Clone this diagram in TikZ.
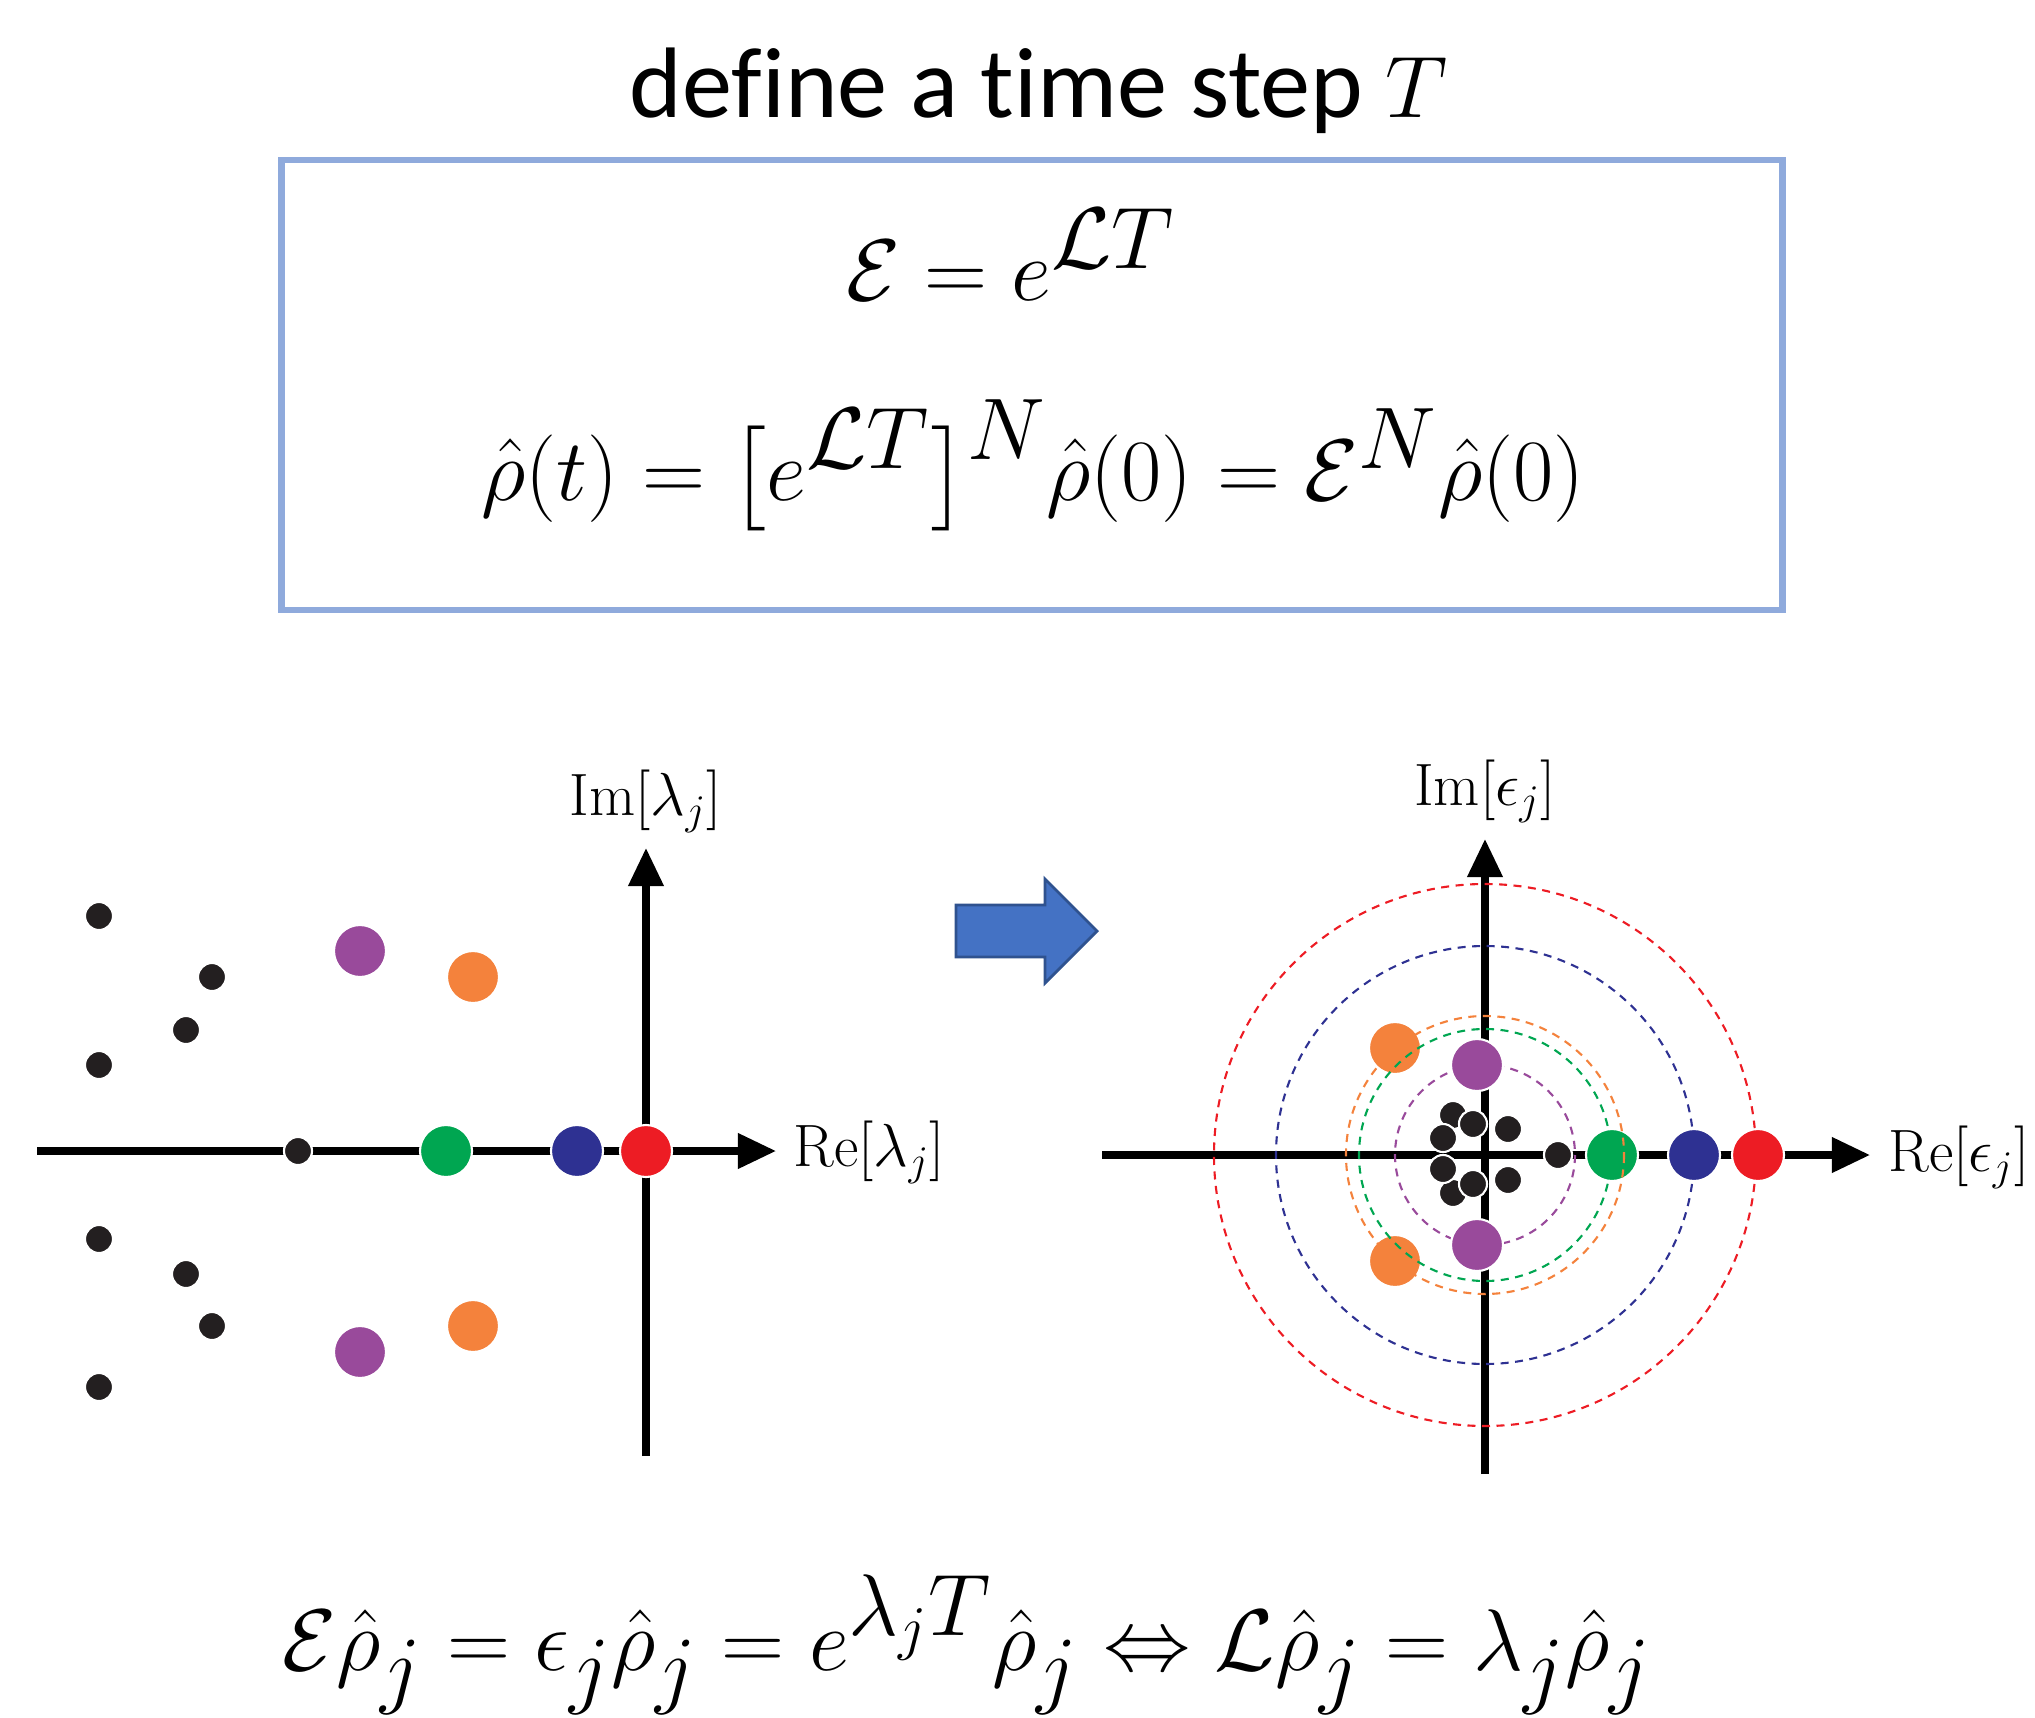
\documentclass[tikz,border=0pt]{standalone}
\usepackage{fontspec}
\usepackage{amsmath}
\usepackage{tikz}
\usetikzlibrary{arrows.meta, positioning}
\newfontfamily\titlefont[Ligatures=NoCommon]{Carlito}
\definecolor{boxblue}{HTML}{8FAADC}
\definecolor{arrowfill}{HTML}{4472C4}
\definecolor{arrowedge}{HTML}{2F528F}
\definecolor{dotblack}{HTML}{231F20}
\definecolor{dotpurple}{HTML}{994A9B}
\definecolor{dotorange}{HTML}{F4823C}
\definecolor{dotgreen}{HTML}{00A651}
\definecolor{dotblue}{HTML}{2E3192}
\definecolor{dotred}{HTML}{ED1C24}

\begin{document}
\begin{tikzpicture}[
    x=0.01cm, y=-0.01cm,
    eqn/.style={anchor=base, inner sep=0pt, font=\fontsize{33}{40}\selectfont},
    axis/.style={line width=2pt, -{Triangle[length=0.38cm, width=0.34cm]}},
    alab/.style={inner sep=0pt, font=\fontsize{17}{20}\selectfont},
    dotsm/.style={circle, fill=dotblack, draw=white, line width=0.6pt,
        inner sep=0pt, minimum size=0.28cm},
    dotbig/.style={circle, draw=white, line width=0.6pt, inner sep=0pt,
        minimum size=0.52cm},
    ring/.style={dash pattern=on 0.08cm off 0.065cm, line width=0.6pt}
]
\useasboundingbox (0,0) rectangle (2035,1718);

% --- Title and defining box ---
\node[anchor=base, inner sep=0pt, font=\titlefont\fontsize{28.5}{34}\selectfont]
    (title) at (1039,117) {define a time step $T$};
\node[draw=boxblue, line width=1.8pt, minimum width=15cm, minimum height=4.5cm]
    (defbox) at (1032,385) {};
\node[eqn] (eqmap) at (1011,300) {$\mathcal{E} = e^{\mathcal{L}T}$};
\node[eqn] (eqrho) at (1033,500)
    {$\hat{\rho}(t) = \big[e^{\mathcal{L}T}\big]^{N}\hat{\rho}(0) = \mathcal{E}^{N}\hat{\rho}(0)$};

% --- Left plot: spectrum of L ---
\coordinate (lxs) at (37,1151);
\coordinate (lxe) at (776,1151);
\coordinate (lys) at (646,1456);
\coordinate (lye) at (646,848);
\draw[axis] (lxs) -- (lxe);
\draw[axis] (lys) -- (lye);
\node[alab, anchor=base] (limlab) at (646,815) {$\mathrm{Im}[\lambda_j]$};
\node[alab, anchor=base west] (lrelab) at (793,1166) {$\mathrm{Re}[\lambda_j]$};

\foreach \px/\py [count=\i] in {99/916, 212/977, 186/1030, 99/1065, 298/1151,
    99/1239, 186/1274, 212/1326, 99/1387}
    \node[dotsm] (lb\i) at (\px,\py) {};
\node[dotbig, fill=dotpurple] (lpu1) at (360,951) {};
\node[dotbig, fill=dotpurple] (lpu2) at (360,1352) {};
\node[dotbig, fill=dotorange] (lor1) at (473,977) {};
\node[dotbig, fill=dotorange] (lor2) at (473,1326) {};
\node[dotbig, fill=dotgreen] (lgr) at (446,1151) {};
\node[dotbig, fill=dotblue] (lbl) at (577,1151) {};
\node[dotbig, fill=dotred] (lre) at (646,1151) {};

% --- Step arrow ---
\draw[fill=arrowfill, draw=arrowedge, line width=0.8pt]
    (956,905) -- (1045,905) -- (1045,879) -- (1097,931) -- (1045,983)
    -- (1045,957) -- (956,957) -- cycle;

% --- Right plot: spectrum of the map ---
\coordinate (rorg) at (1485,1155);
\coordinate (rxs) at (1102,1155);
\coordinate (rxe) at (1870,1155);
\coordinate (rys) at (1485,1474);
\coordinate (rye) at (1485,839);
\draw[axis] (rxs) -- (rxe);
\draw[axis] (rys) -- (rye);
\node[alab, anchor=base] (rimlab) at (1485,805) {$\mathrm{Im}[\epsilon_j]$};
\node[alab, anchor=base west] (rrelab) at (1888,1171) {$\mathrm{Re}[\epsilon_j]$};

\draw[ring, dotpurple] (rorg) circle[radius=90];
\draw[ring, dotblue] (rorg) circle[radius=209];
\draw[ring, dotred] (rorg) circle[radius=271];

\foreach \px/\py [count=\i] in {1453/1115, 1453/1193, 1443/1138, 1473/1124,
    1508/1129, 1443/1169, 1473/1184, 1508/1180, 1558/1155}
    \node[dotsm] (rb\i) at (\px,\py) {};
\node[dotbig, fill=dotorange] (ror1) at (1395,1048) {};
\node[dotbig, fill=dotorange] (ror2) at (1395,1261) {};
\node[dotbig, fill=dotpurple] (rpu1) at (1477,1065) {};
\node[dotbig, fill=dotpurple] (rpu2) at (1477,1245) {};
\node[dotbig, fill=dotgreen] (rgr) at (1612,1155) {};
\node[dotbig, fill=dotblue] (rbl) at (1694,1155) {};
\node[dotbig, fill=dotred] (rre) at (1758,1155) {};

\draw[ring, dotgreen] (rorg) circle[radius=126];
\draw[ring, dotorange] (rorg) circle[radius=139];

% --- Eigenvalue relation ---
\node[eqn] (eqeig) at (967,1670)
    {$\mathcal{E}\hat{\rho}_j = \epsilon_j\hat{\rho}_j = e^{\lambda_j T}\hat{\rho}_j
    \Leftrightarrow \mathcal{L}\hat{\rho}_j = \lambda_j\hat{\rho}_j$};

\end{tikzpicture}
\end{document}
